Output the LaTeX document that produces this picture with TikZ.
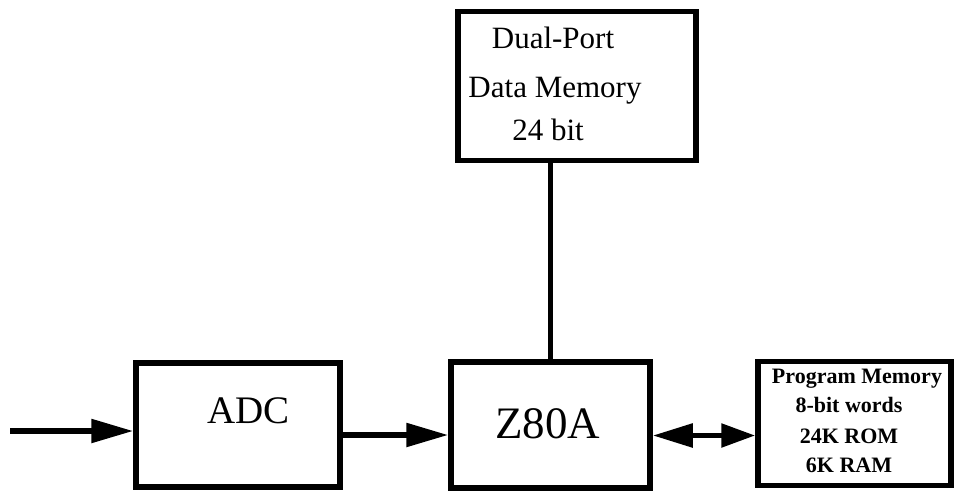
\documentclass[tikz,border=0pt]{standalone}
\usepackage{fontspec}
\setmainfont{Liberation Serif}
\usetikzlibrary{arrows.meta}
\tikzset{
  blk/.style={draw, line width=5.5pt, minimum width=#1, inner sep=0pt},
  conn/.style={line width=5.5pt},
  tip/.style={-{Triangle[length=42pt,width=23pt]}},
  lbl/.style={anchor=base, inner sep=0pt},
  dtxt/.style={lbl, font=\fontsize{31}{32}\selectfont},
  ptxt/.style={lbl, font=\fontsize{22}{24}\bfseries\selectfont},
}
\begin{document}
\begin{tikzpicture}[x=1pt,y=-1pt]
\useasboundingbox (0,0) rectangle (954,493);
% boxes
\node[blk=238pt, minimum height=149pt] (dual) at (577,86) {};
\node[blk=204pt, minimum height=124pt] (adc) at (238,425) {};
\node[blk=199pt, minimum height=126pt] (z80) at (550.5,425) {};
\node[blk=193pt, minimum height=124pt] (prog) at (854.5,423.5) {};
% texts
\node[dtxt] (d1) at (553,48) {Dual-Port};
\node[dtxt] (d2) at (555,97) {Data Memory};
\node[dtxt] (d3) at (548,140) {24 bit};
\node[lbl, font=\fontsize{39}{40}\selectfont] (a1) at (248.5,423) {ADC};
\node[lbl, font=\fontsize{45}{46}\selectfont] (z1) at (547.5,438) {Z80A};
\node[ptxt] (p1) at (857,383) {Program Memory};
\node[ptxt] (p2) at (849,412) {8-bit words};
\node[ptxt] (p3) at (849,443) {24K ROM};
\node[ptxt] (p4) at (849,472) {6K RAM};
% connectors
\coordinate (inp) at (10,431);
\draw[conn, tip] (inp) -- (inp -| adc.west);
\draw[conn, tip] ([yshift=-10pt]adc.east) -- ([yshift=-10pt]adc.east -| z80.west);
\draw[conn, {Triangle[length=40pt,width=23pt]}-{Triangle[length=34pt,width=23pt]}] ([yshift=-10.5pt]z80.east) -- ([yshift=-10.5pt]z80.east -| prog.west);
\draw[conn] (z80.north) -- (z80.north |- dual.south);
\end{tikzpicture}
\end{document}
